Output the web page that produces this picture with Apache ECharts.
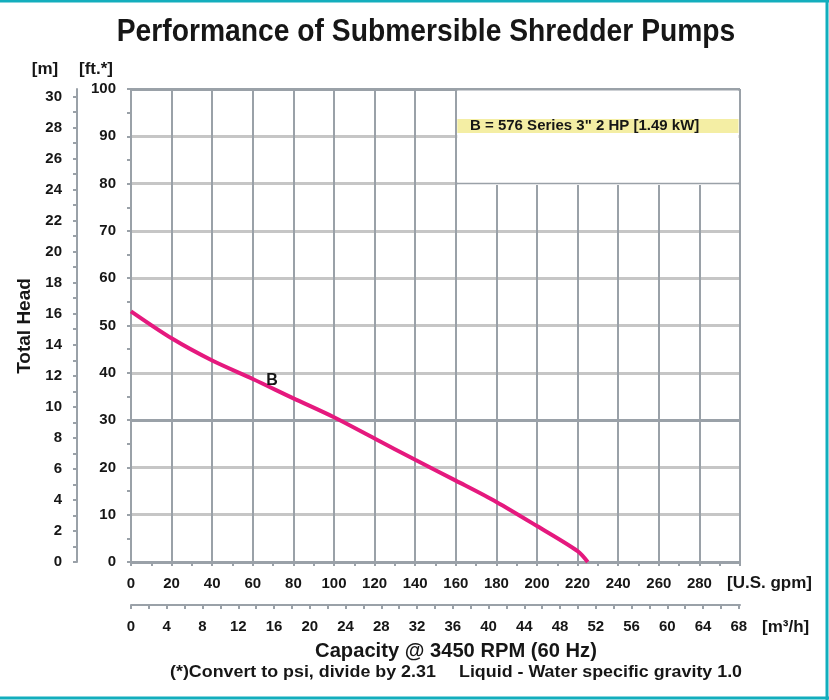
<!DOCTYPE html>
<html>
<head>
<meta charset="utf-8">
<title>Performance of Submersible Shredder Pumps</title>
<script src="https://cdn.jsdelivr.net/npm/echarts@6/dist/echarts.min.js"></script>
<style>
    html, body { margin: 0; padding: 0; background: #fff; }
    #pump { width: 829px; height: 700px; }
</style>
</head>
<body>
<div id="pump"></div>
<script>
// pump curve B (U.S. gpm -> feet of head)
var flowGpm = [0, 20, 40, 60, 80, 100, 120, 140, 160, 180, 200, 220, 225];
var headFt = [53, 47.3, 42.6, 38.7, 34.6, 30.6, 26.1, 21.6, 17.2, 12.7, 7.6, 2.3, 0];

// tick labels
var gpmLabels = [0, 20, 40, 60, 80, 100, 120, 140, 160, 180, 200, 220, 240, 260, 280];
var m3hLabels = [0, 4, 8, 12, 16, 20, 24, 28, 32, 36, 40, 44, 48, 52, 56, 60, 64, 68];
var m3hTicks = [];
for (var t = 0; t <= 68; t += 2) { m3hTicks.push(t); }
var meterLabels = [0, 2, 4, 6, 8, 10, 12, 14, 16, 18, 20, 22, 24, 26, 28, 30];
var meterTicks = [];
for (var k = 0; k <= 30; k++) { meterTicks.push(k); }

var GPM_MAX = 300, FT_MAX = 100;
var M3H_MAX = GPM_MAX * 0.227125;   // same scale as gpm
var M_MAX = FT_MAX / 3.28084;       // same scale as ft

var font = '"Liberation Sans", Arial, Helvetica, sans-serif';
var ink = '#161616';
var dark = '#9aa1a8';
var light = '#c6c6c6';

var curve = flowGpm.map(function (g, i) { return [g, headFt[i]]; });

var tickLabel = {
    color: ink,
    fontFamily: font,
    fontWeight: 'bold',
    fontSize: 15
};

var chart = echarts.init(document.getElementById('pump'));

var option = {
    backgroundColor: '#fff',
    animation: false,
    grid: {
        left: 131,
        top: 89,
        right: 89,
        bottom: 138,
        containLabel: false,
        outerBoundsMode: 'none'
    },
    xAxis: [
        {
            type: 'value',
            min: 0,
            max: GPM_MAX,
            interval: 20,
            axisLine: { show: true, onZero: false, lineStyle: { color: dark, width: 2 } },
            axisTick: { show: true, length: 4, lineStyle: { color: dark, width: 2 } },
            minorTick: { show: true, splitNumber: 2, length: 4, lineStyle: { color: dark, width: 2 } },
            axisLabel: echarts.util.extend({ customValues: gpmLabels, margin: 14 }, tickLabel),
            splitLine: { show: true, lineStyle: { color: dark, width: 2 } }
        },
        {
            type: 'value',
            position: 'bottom',
            offset: 43,
            min: 0,
            max: M3H_MAX,
            axisLine: { show: true, onZero: false, lineStyle: { color: dark, width: 2 } },
            axisTick: { show: true, customValues: m3hTicks, length: 4, lineStyle: { color: dark, width: 2 } },
            axisLabel: echarts.util.extend({ customValues: m3hLabels, margin: 14 }, tickLabel),
            splitLine: { show: false }
        }
    ],
    yAxis: [
        {
            type: 'value',
            min: 0,
            max: FT_MAX,
            interval: 10,
            position: 'left',
            axisLine: { show: true, onZero: false, lineStyle: { color: dark, width: 2 } },
            axisTick: { show: true, length: 4, lineStyle: { color: dark, width: 2 } },
            minorTick: { show: true, splitNumber: 2, length: 4, lineStyle: { color: dark, width: 2 } },
            axisLabel: echarts.util.extend({ margin: 15 }, tickLabel),
            splitLine: {
                show: true,
                lineStyle: {
                    color: [dark, light, light, dark, light, light, light, light, light, light, dark],
                    width: 3
                }
            }
        },
        {
            type: 'value',
            min: 0,
            max: M_MAX,
            position: 'left',
            offset: 54,
            axisLine: { show: true, onZero: false, lineStyle: { color: dark, width: 2 } },
            axisTick: { show: true, customValues: meterTicks, length: 4, lineStyle: { color: dark, width: 2 } },
            axisLabel: echarts.util.extend({ customValues: meterLabels, margin: 15 }, tickLabel),
            splitLine: { show: false }
        }
    ],
    series: [
        {
            name: 'B',
            type: 'line',
            xAxisIndex: 0,
            yAxisIndex: 0,
            data: curve,
            smooth: 0.3,
            showSymbol: false,
            lineStyle: { color: '#e5197e', width: 4 },
            z: 5
        }
    ]
};
chart.setOption(option);

// legend box sits over the top right corner of the grid
var p1 = chart.convertToPixel({ gridIndex: 0 }, [160, 100]);
var p2 = chart.convertToPixel({ gridIndex: 0 }, [300, 80]);
var boxX = p1[0] + 1.5, boxY = p1[1] + 1.5;
var boxW = p2[0] - p1[0] - 3, boxH = p2[1] - p1[1];

function label(txt, x, y, size, align, extra) {
    var el = {
        type: 'text', x: x, y: y, z: 12,
        style: {
            text: txt,
            font: 'bold ' + size + 'px ' + font,
            fill: ink,
            textAlign: align,
            textVerticalAlign: 'middle'
        }
    };
    return echarts.util.extend(el, extra || {});
}

chart.setOption({
    graphic: [
        // outer frame (teal on top, right and bottom)
        { type: 'line', shape: { x1: 0, y1: 1, x2: 829, y2: 1 }, style: { stroke: '#13aebd', lineWidth: 3 } },
        { type: 'line', shape: { x1: 827, y1: 0, x2: 827, y2: 700 }, style: { stroke: '#13aebd', lineWidth: 3 } },
        { type: 'line', shape: { x1: 0, y1: 698, x2: 829, y2: 698 }, style: { stroke: '#13aebd', lineWidth: 3 } },
        // legend
        { type: 'rect', shape: { x: boxX, y: boxY, width: boxW, height: boxH }, style: { fill: '#fff' }, z: 10 },
        { type: 'line', shape: { x1: p1[0], y1: p2[1], x2: p2[0], y2: p2[1] }, style: { stroke: dark, lineWidth: 1.5 }, z: 11 },
        { type: 'rect', shape: { x: boxX, y: p1[1] + 30, width: boxW, height: 14 }, style: { fill: '#f4eea4' }, z: 11 },
        label('B = 576 Series 3" 2 HP [1.49 kW]', 470, p1[1] + 37, 15, 'left'),
        label('B', 272, 381, 16, 'center'),
        // titles
        label('Performance of Submersible Shredder Pumps', 426, 32, 32, 'center', { scaleX: 0.883 }),
        label('[m]', 45, 69, 17, 'center'),
        label('[ft.*]', 96, 69, 17, 'center'),
        label('Total Head', 25, 326, 19, 'center', { rotation: Math.PI / 2 }),
        label('[U.S. gpm]', 727, 583, 17, 'left'),
        label('[m³/h]', 762, 627, 17, 'left'),
        label('Capacity @ 3450 RPM (60 Hz)', 456, 651, 21, 'center', { scaleX: 0.96 }),
        label('(*)Convert to psi, divide by 2.31', 170, 672, 17, 'left', { scaleX: 1.05 }),
        label('Liquid - Water specific gravity 1.0', 459, 672, 17, 'left', { scaleX: 1.05 })
    ]
});

window.onresize = function () {
    chart.resize();
};
</script>
</body>
</html>
